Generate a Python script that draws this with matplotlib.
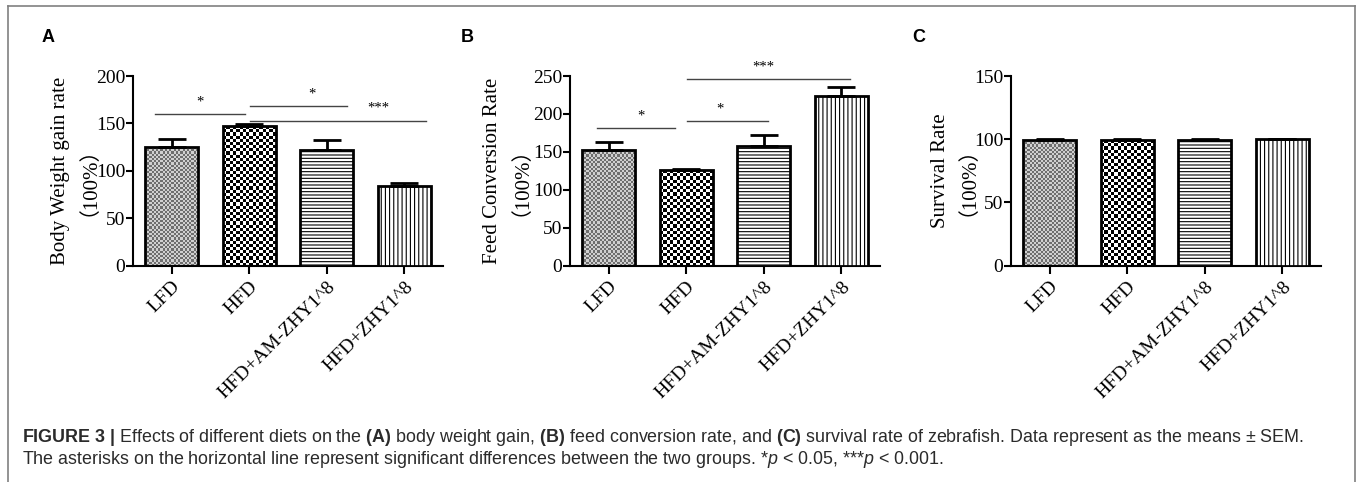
import numpy as np
import matplotlib
matplotlib.use("Agg")
import matplotlib.pyplot as plt
from matplotlib.colors import ListedColormap
from matplotlib.lines import Line2D

plt.rcParams["font.family"] = ["Liberation Serif", "Noto Sans CJK SC"]
plt.rcParams["hatch.linewidth"] = 0.8
plt.rcParams["mathtext.fontset"] = "custom"
plt.rcParams["mathtext.rm"] = "Liberation Sans"
plt.rcParams["mathtext.bf"] = "Liberation Sans:bold"
plt.rcParams["mathtext.it"] = "Liberation Sans:italic"

groups = ["LFD", "HFD", "HFD+AM-ZHY1^8", "HFD+ZHY1^8"]

gain_mean = [125, 147.5, 121.5, 83.5]
gain_sem = [9, 2, 10.5, 4]
fcr_mean = [152, 126, 158, 223]
fcr_sem = [11, 1.5, 14, 13]
surv_mean = [99.3, 99.3, 99.3, 100]
surv_sem = [0.7, 0.7, 0.7, 0]

# (x start, x end, y, label, label x)
gain_sig = [(-0.22, 0.95, 160, "*", 0.36),
            (1.01, 2.26, 168, "*", 1.81),
            (1.01, 3.28, 153, "***", 2.66)]
fcr_sig = [(-0.15, 0.86, 181, "*", 0.42),
           (1.01, 2.06, 191, "*", 1.44),
           (1.01, 3.11, 246, "***", 1.99)]

panels = [
    dict(letter="A", letx=42, mean=gain_mean, sem=gain_sem, sig=gain_sig, ymax=200,
         ylabel="Body Weight gain rate\n（100%）", left=133, labx=-0.145),
    dict(letter="B", letx=461, mean=fcr_mean, sem=fcr_sem, sig=fcr_sig, ymax=250,
         ylabel="Feed Conversion Rate\n（100%）", left=570, labx=-0.16),
    dict(letter="C", letx=912, mean=surv_mean, sem=surv_sem, sig=[], ymax=150,
         ylabel="Survival Rate\n（100%）", left=1011, labx=-0.139),
]

W, H = 1358, 482
fig = plt.figure(figsize=(W / 100, H / 100), dpi=100)

# outer frame (open at the bottom)
fig.add_artist(Line2D([8 / W, 8 / W], [0, 1 - 6 / H], color="#808080", lw=1.2))
fig.add_artist(Line2D([8 / W, 1355 / W], [1 - 6 / H, 1 - 6 / H], color="#808080", lw=1.2))
fig.add_artist(Line2D([1355 / W, 1355 / W], [0, 1 - 6 / H], color="#808080", lw=1.2))


def checker(ax, bar, cell, c0, c1):
    (px0, py0) = ax.transData.transform((bar.get_x(), bar.get_y()))
    (px1, py1) = ax.transData.transform((bar.get_x() + bar.get_width(),
                                         bar.get_y() + bar.get_height()))
    nx = max(1, int(round((px1 - px0) / cell)))
    ny = max(1, int(round((py1 - py0) / cell)))
    arr = np.indices((ny, nx)).sum(0) % 2
    im = ax.imshow(arr, cmap=ListedColormap([c0, c1]), aspect="auto",
                   interpolation="nearest",
                   extent=(bar.get_x(), bar.get_x() + bar.get_width(),
                           bar.get_y(), bar.get_y() + bar.get_height()),
                   zorder=2)
    im.set_clip_path(bar)


x = np.arange(len(groups))
for p in panels:
    ax = fig.add_axes([p["left"] / W, 1 - 265.5 / H, 310 / W, 189.5 / H])
    ax.set_xlim(-0.5, 3.5)
    ax.set_ylim(0, p["ymax"])
    bars = ax.bar(x, p["mean"], width=0.68, facecolor="none", edgecolor="black",
                  linewidth=2, zorder=3,
                  yerr=[np.zeros(len(x)), p["sem"]], capsize=10,
                  error_kw=dict(elinewidth=2, capthick=2, ecolor="black", zorder=4))
    checker(ax, bars[0], 2.2, "#6e6e6e", "#d0d0d0")
    checker(ax, bars[1], 3.2, "white", "black")
    bars[2].set_hatch("-----")
    bars[3].set_hatch("||||")
    bars[2].set_facecolor("white")
    bars[3].set_facecolor("white")

    for x0, x1, y, lab, lx in p["sig"]:
        ax.plot([x0, x1], [y, y], color="#444444", lw=1.0, clip_on=False)
        ax.annotate(lab, (lx, y), xytext=(0, 4), textcoords="offset points",
                    ha="center", va="bottom", fontsize=10.5)

    ax.set_xlim(-0.5, 3.5)
    ax.set_ylim(0, p["ymax"])
    ax.set_yticks(np.arange(0, p["ymax"] + 1, 50))
    ax.set_xticks(x)
    ax.set_xticklabels(groups, rotation=45, ha="right", rotation_mode="anchor",
                       fontsize=14)
    ax.tick_params(axis="y", direction="out", length=5, width=1.5, labelsize=14, pad=0.5)
    ax.tick_params(axis="x", direction="out", length=6, width=1.5, pad=3)
    for s in ["top", "right"]:
        ax.spines[s].set_visible(False)
    for s in ["left", "bottom"]:
        ax.spines[s].set_linewidth(1.5)
    ax.set_ylabel(p["ylabel"], fontsize=15, linespacing=0.9)
    ax.yaxis.set_label_coords(p["labx"], 0.5)

    fig.text(p["letx"] / W, 1 - 37 / H, p["letter"], family="Liberation Sans",
             fontweight="bold", fontsize=13, va="center", ha="left")

cap1 = (r"$\mathbf{FIGURE\ 3\ |}$ Effects of different diets on the $\mathbf{(A)}$ body weight gain, "
        r"$\mathbf{(B)}$ feed conversion rate, and $\mathbf{(C)}$ survival rate of zebrafish. "
        "Data represent as the means \u00b1 SEM.")
cap2 = (r"The asterisks on the horizontal line represent significant differences between the two groups. "
        r"*$\mathit{p}$ < 0.05, ***$\mathit{p}$ < 0.001.")
fig.text(22 / W, 1 - 437 / H, cap1, family="Liberation Sans", fontsize=12.9,
         color="#2b2b2b", va="center", ha="left")
fig.text(22 / W, 1 - 460 / H, cap2, family="Liberation Sans", fontsize=12.9,
         color="#2b2b2b", va="center", ha="left")

fig.savefig("out.png", dpi=100)
